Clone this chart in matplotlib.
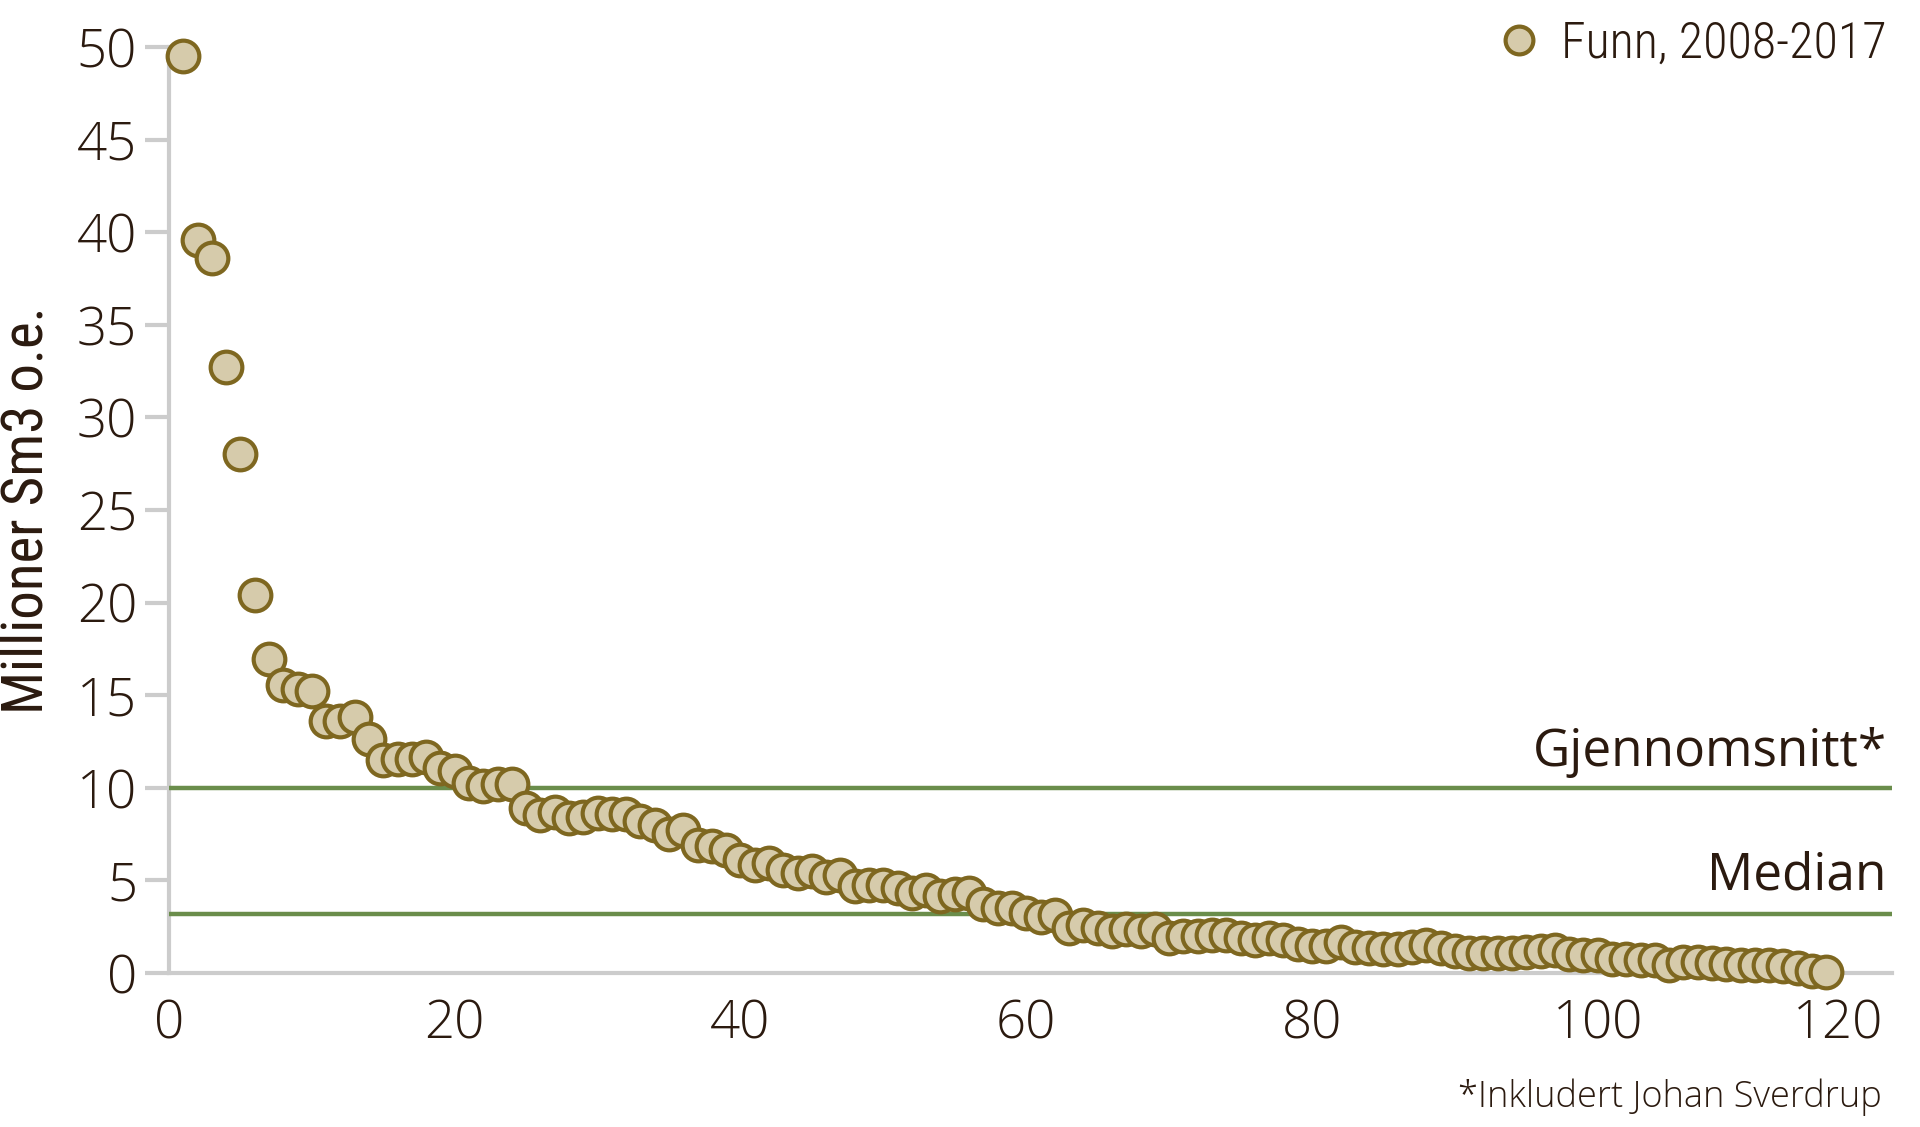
import matplotlib
matplotlib.use("Agg")
import matplotlib.pyplot as plt
from matplotlib.lines import Line2D

# ---- data ----
rank = list(range(1, 117))
volume = [
    49.5, 39.6, 38.6, 32.7, 28.0, 20.4, 16.95, 15.55, 15.35, 15.25,
    13.6, 13.6, 13.8, 12.65, 11.5, 11.55, 11.55, 11.65, 11.05, 10.9,
    10.25, 10.1, 10.2, 10.2, 8.9, 8.55, 8.7, 8.35, 8.45, 8.65,
    8.6, 8.6, 8.2, 8.0, 7.5, 7.7, 6.9, 6.85, 6.65, 6.1,
    5.85, 5.95, 5.55, 5.4, 5.5, 5.2, 5.3, 4.7, 4.75, 4.75,
    4.6, 4.3, 4.5, 4.15, 4.25, 4.3, 3.7, 3.5, 3.5, 3.25,
    3.05, 3.15, 2.45, 2.6, 2.45, 2.25, 2.35, 2.25, 2.35, 1.9,
    2.0, 2.0, 2.05, 2.05, 1.9, 1.8, 1.9, 1.8, 1.55, 1.45,
    1.45, 1.7, 1.4, 1.35, 1.3, 1.3, 1.4, 1.5, 1.35, 1.2,
    1.1, 1.1, 1.1, 1.1, 1.15, 1.2, 1.25, 1.0, 0.95, 0.95,
    0.75, 0.75, 0.7, 0.7, 0.45, 0.6, 0.6, 0.55, 0.5, 0.45,
    0.45, 0.45, 0.4, 0.25, 0.1, 0.05,
]
average = 10.0
median = 3.2
yticks = [0, 5, 10, 15, 20, 25, 30, 35, 40, 45, 50]
xticks = [0, 20, 40, 60, 80, 100, 120]
series_label = "Funn, 2008-2017"
avg_label = "Gjennomsnitt*"
median_label = "Median"
ylabel = "Millioner Sm3 o.e."
footnote = "*Inkludert Johan Sverdrup"

# ---- style ----
TEXT = "#2b1a0f"
FILL = "#d6cbab"
EDGE = "#7e6720"
GREEN = "#6a8d4b"
GRAY = "#cccccc"
LIGHT = ["Open Sans", "DejaVu Sans"]
NARROW = ["Roboto Condensed", "Roboto", "DejaVu Sans"]

W, H = 1920, 1127
fig = plt.figure(figsize=(W / 100, H / 100), dpi=100)
left, right, bottom, top = 169, 1892, 973, 47
ax = fig.add_axes([left / W, 1 - bottom / H, (right - left) / W, (bottom - top) / H])

ax.set_xlim(0, 120.6)
ax.set_ylim(0, 50)

for s in ["top", "right"]:
    ax.spines[s].set_visible(False)
for s in ["left", "bottom"]:
    ax.spines[s].set_color(GRAY)
    ax.spines[s].set_linewidth(3)
    ax.spines[s].set_zorder(1)

ax.set_yticks(yticks)
ax.set_xticks(xticks)
ax.tick_params(axis="y", length=17, width=3, color=GRAY, pad=6,
               labelsize=38, labelcolor=TEXT)
ax.tick_params(axis="x", length=0, pad=18, labelsize=38, labelcolor=TEXT)
for lab in ax.get_xticklabels() + ax.get_yticklabels():
    lab.set_family(LIGHT)
    lab.set_fontweight("light")
# last x label is pulled inside the figure, as in the original
xl = ax.get_xticklabels()
xl[-1].set_horizontalalignment("right")

ax.axhline(average, color=GREEN, lw=3.2, zorder=2)
ax.axhline(median, color=GREEN, lw=3.2, zorder=2)

ax.scatter(rank, volume, s=520, facecolor=FILL, edgecolor=EDGE,
           linewidth=3.0, zorder=3, clip_on=False)

tr = ax.get_yaxis_transform()
ax.text(0.997, 11.2, avg_label, transform=tr, ha="right", va="baseline",
        fontsize=37, color=TEXT, family=LIGHT)
ax.text(0.997, 4.5, median_label, transform=tr, ha="right", va="baseline",
        fontsize=37, color=TEXT, family=LIGHT)

handle = Line2D([], [], ls="none", marker="o", markersize=20,
                markerfacecolor=FILL, markeredgecolor=EDGE, markeredgewidth=3.0)
leg = fig.legend([handle], [series_label], loc="upper right",
                 bbox_to_anchor=(1887 / W, 1 - 20 / H), frameon=False,
                 handletextpad=0.35, borderpad=0, borderaxespad=0,
                 handlelength=1.0,
                 prop={"family": NARROW, "size": 36, "weight": "light"})
for t in leg.get_texts():
    t.set_color(TEXT)

fig.text(27 / W, 1 - 510 / H, ylabel, rotation=90, ha="center", va="center",
         fontsize=41, color=TEXT, family=NARROW)
fig.text(1882 / W, 1 - 1097 / H, footnote, ha="right", va="center",
         fontsize=26, color=TEXT, family=LIGHT, fontweight="light")

fig.savefig("out.png", dpi=100, facecolor="white")
